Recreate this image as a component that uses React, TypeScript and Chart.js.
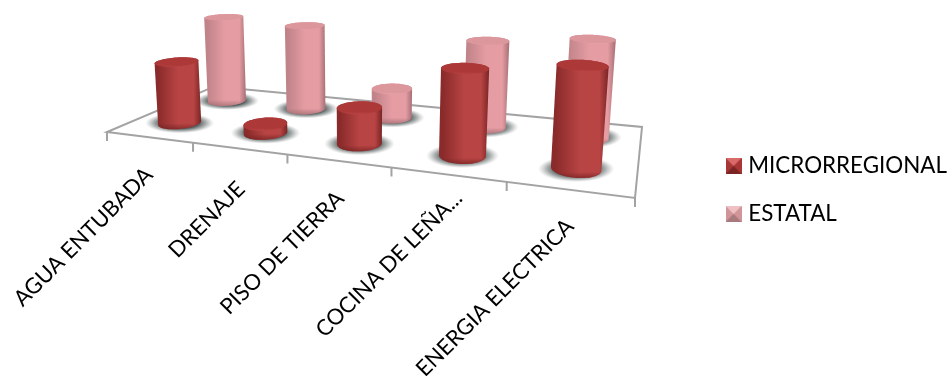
import React, { useEffect, useRef } from "react";
import { Chart, BarController, BarElement, CategoryScale, LinearScale, Legend } from "chart.js";

// Share of dwellings with each service, by region level.
const categories = ["AGUA ENTUBADA", "DRENAJE", "PISO DE TIERRA", "COCINA DE LEÑA...", "ENERGIA ELECTRICA"];
const microrregional = [64, 9, 35, 80, 90];
const estatal = [96, 92, 31, 88, 96];

// Perspective scene: floor corners on screen and the vanishing point of the vertical edges.
const FLOOR = { fl: [107, 132], fr: [635, 198], br: [642, 127], bl: [214.5, 86.4] };
const VANISH = [360, 3600];
const HEIGHT_FACTOR = 0.028;
const DEPTH_RADIUS = 0.115;
const SERIES_DEPTHS = [0.26, 0.73];
const FONT = "Lato, sans-serif";

// Where each rotated axis label ends, relative to its spot on the front edge.
const LABEL_ANCHORS = [[0, 34], [2, 37], [2, 34], [11, 20], [1, 33]];

const PALETTES = [
  { edgeL: "#8a2a2a", mid: "#b84444", edgeR: "#7a2424", top: "#ad3838", rim: "#c44e4e", low: "#6e1f1f" },
  { edgeL: "#c08389", mid: "#e59da3", edgeR: "#a66f75", top: "#dc979d", rim: "#eeb0b5", low: "#9a666b" },
];

function floorMatrix() {
  const [x0, y0] = FLOOR.fl, [x1, y1] = FLOOR.fr, [x2, y2] = FLOOR.br, [x3, y3] = FLOOR.bl;
  const dx1 = x1 - x2, dx2 = x3 - x2, sx = x0 - x1 + x2 - x3;
  const dy1 = y1 - y2, dy2 = y3 - y2, sy = y0 - y1 + y2 - y3;
  const det = dx1 * dy2 - dx2 * dy1;
  const g = (sx * dy2 - dx2 * sy) / det;
  const h = (dx1 * sy - sx * dy1) / det;
  return {
    a: x1 - x0 + g * x1, b: x3 - x0 + h * x3, c: x0,
    d: y1 - y0 + g * y1, e: y3 - y0 + h * y3, f: y0, g, h,
  };
}
const M = floorMatrix();

// u: along the categories, v: along the series, t: fraction of the value axis.
function project(u: number, v: number, t = 0): [number, number] {
  const w = M.g * u + M.h * v + 1;
  const s = -t * HEIGHT_FACTOR;
  const X = M.a * u + M.b * v + M.c + s * VANISH[0];
  const Y = M.d * u + M.e * v + M.f + s * VANISH[1];
  return [X / (w + s), Y / (w + s)];
}

function ring(u: number, v: number, ru: number, rv: number, t: number) {
  const pts: [number, number][] = [];
  for (let i = 0; i < 72; i++) {
    const a = (i / 72) * Math.PI * 2;
    pts.push(project(u + ru * Math.cos(a), v + rv * Math.sin(a), t));
  }
  return pts;
}

function hull(points: [number, number][]) {
  const p = [...points].sort((a, b) => a[0] - b[0] || a[1] - b[1]);
  const cross = (o: number[], a: number[], b: number[]) =>
    (a[0] - o[0]) * (b[1] - o[1]) - (a[1] - o[1]) * (b[0] - o[0]);
  const lo: [number, number][] = [], up: [number, number][] = [];
  for (const q of p) {
    while (lo.length > 1 && cross(lo[lo.length - 2], lo[lo.length - 1], q) <= 0) lo.pop();
    lo.push(q);
  }
  for (const q of [...p].reverse()) {
    while (up.length > 1 && cross(up[up.length - 2], up[up.length - 1], q) <= 0) up.pop();
    up.push(q);
  }
  return lo.slice(0, -1).concat(up.slice(0, -1));
}

function tracePoly(ctx: CanvasRenderingContext2D, pts: [number, number][]) {
  ctx.beginPath();
  pts.forEach((q, i) => (i ? ctx.lineTo(q[0], q[1]) : ctx.moveTo(q[0], q[1])));
  ctx.closePath();
}

function drawShadow(ctx: CanvasRenderingContext2D, base: [number, number][]) {
  const xs = base.map((q) => q[0]), ys = base.map((q) => q[1]);
  const cx = (Math.min(...xs) + Math.max(...xs)) / 2;
  const cy = (Math.min(...ys) + Math.max(...ys)) / 2;
  const rx = (Math.max(...xs) - Math.min(...xs)) / 2 + 13;
  const ry = (Math.max(...ys) - Math.min(...ys)) / 2 + 4;
  ctx.save();
  ctx.translate(cx, cy);
  ctx.scale(1, ry / rx);
  const g = ctx.createRadialGradient(0, 0, rx * 0.55, 0, 0, rx);
  g.addColorStop(0, "rgba(60,72,72,0.9)");
  g.addColorStop(0.5, "rgba(95,105,105,0.5)");
  g.addColorStop(1, "rgba(150,150,150,0)");
  ctx.fillStyle = g;
  ctx.beginPath();
  ctx.arc(0, 0, rx, 0, Math.PI * 2);
  ctx.fill();
  ctx.restore();
}

function drawCylinder(ctx: CanvasRenderingContext2D, u: number, v: number, ru: number, t: number, pal: typeof PALETTES[0]) {
  const base = ring(u, v, ru, DEPTH_RADIUS, 0);
  const top = ring(u, v, ru, DEPTH_RADIUS, t);
  drawShadow(ctx, base);
  const outline = hull(base.concat(top));
  const xs = outline.map((q) => q[0]), ys = outline.map((q) => q[1]);
  const left = Math.min(...xs), right = Math.max(...xs), bottom = Math.max(...ys);
  const topYs = top.map((q) => q[1]);
  const topLow = Math.max(...topYs), topHigh = Math.min(...topYs);

  ctx.save();
  tracePoly(ctx, outline);
  ctx.clip();
  const body = ctx.createLinearGradient(left, 0, right, 0);
  body.addColorStop(0, pal.edgeL);
  body.addColorStop(0.07, pal.edgeL);
  body.addColorStop(0.5, pal.mid);
  body.addColorStop(0.84, pal.mid);
  body.addColorStop(1, pal.edgeR);
  ctx.fillStyle = body;
  ctx.fillRect(left - 1, topHigh - 1, right - left + 2, bottom - topHigh + 2);
  // darker rounding along the foot of the cylinder
  const foot = ctx.createLinearGradient(0, bottom - 6, 0, bottom);
  foot.addColorStop(0, pal.low + "00");
  foot.addColorStop(1, pal.low + "aa");
  ctx.fillStyle = foot;
  ctx.fillRect(left - 1, bottom - 6, right - left + 2, 7);
  ctx.restore();

  // lid with a soft lit bevel on its near edge
  tracePoly(ctx, top);
  const lid = ctx.createLinearGradient(0, topHigh, 0, topLow + 2);
  lid.addColorStop(0, pal.top);
  lid.addColorStop(0.7, pal.top);
  lid.addColorStop(1, pal.rim);
  ctx.fillStyle = lid;
  ctx.fill();
}

// Bars laid out by the stock controller, then painted as cylinders standing on the floor.
class CylinderController extends BarController {
  static id = "cylinder";
  static defaults = BarController.defaults;
  static overrides = BarController.overrides;
  draw() {
    const chart = (this as any).chart;
    const ctx = chart.ctx;
    const meta = (this as any).getMeta();
    const xs = meta.xScale, ys = meta.yScale;
    const v = SERIES_DEPTHS[meta.index];
    meta.data.forEach((bar: any) => {
      const u = (bar.x - xs.left) / xs.width;
      const ru = bar.width / xs.width / 2;
      const t = (bar.base - bar.y) / ys.height;
      drawCylinder(ctx, u, v, ru, t, PALETTES[meta.index]);
    });
  }
}

const floorPlugin = {
  id: "floor",
  beforeDatasetsDraw(chart: any) {
    const { ctx } = chart;
    const xs = chart.scales.x;
    const toU = (px: number) => (px - xs.left) / xs.width;
    ctx.save();
    ctx.strokeStyle = "#a3a3a3";
    ctx.lineWidth = 2;
    ctx.beginPath();
    const corners = [project(0, 0), project(1, 0), project(1, 1), project(0, 1)];
    corners.forEach((q, i) => (i ? ctx.lineTo(q[0], q[1]) : ctx.moveTo(q[0], q[1])));
    ctx.closePath();
    ctx.stroke();
    ctx.beginPath();
    for (let i = 0; i <= categories.length; i++) {
      const q = project(toU(xs.getPixelForValue(i - 0.5)), 0);
      ctx.moveTo(q[0], q[1]);
      ctx.lineTo(q[0], q[1] + 9);
    }
    ctx.stroke();
    ctx.restore();

    // Category labels follow the front edge, rotated as the axis text.
    ctx.save();
    ctx.fillStyle = "#000";
    ctx.font = `22px ${FONT}`;
    ctx.textAlign = "right";
    ctx.textBaseline = "middle";
    xs.getLabels().forEach((label: string, i: number) => {
      const q = project(toU(xs.getPixelForValue(i)), 0);
      ctx.save();
      ctx.translate(q[0] + LABEL_ANCHORS[i][0], q[1] + LABEL_ANCHORS[i][1]);
      ctx.rotate(-Math.PI / 4);
      ctx.fillText(label, 0, 0);
      ctx.restore();
    });
    ctx.restore();
  },
};

function swatch(colors: string[]) {
  const c = document.createElement("canvas");
  c.width = 16;
  c.height = 16;
  const g = c.getContext("2d")!;
  const tri = (pts: number[][], fill: string) => {
    g.fillStyle = fill;
    g.beginPath();
    pts.forEach((p, i) => (i ? g.lineTo(p[0], p[1]) : g.moveTo(p[0], p[1])));
    g.closePath();
    g.fill();
  };
  g.fillStyle = colors[1];
  g.fillRect(0, 0, 16, 16);
  tri([[0, 0], [16, 0], [8, 8]], colors[0]);
  tri([[0, 16], [16, 16], [8, 8]], colors[2]);
  return c;
}

Chart.register(CylinderController, BarElement, CategoryScale, LinearScale, Legend);

export default function App() {
  const ref = useRef<HTMLCanvasElement>(null);
  useEffect(() => {
    const chart = new Chart(ref.current!, {
      type: "cylinder" as any,
      data: {
        labels: categories,
        datasets: [
          { label: "MICRORREGIONAL", data: microrregional, clip: false } as any,
          { label: "ESTATAL", data: estatal, clip: false } as any,
        ],
      },
      plugins: [floorPlugin],
      options: {
        responsive: false,
        animation: false,
        layout: { padding: { top: 4, right: -5 } },
        datasets: { cylinder: { grouped: false, categoryPercentage: 1, barPercentage: 0.42 } } as any,
        scales: {
          x: { type: "category", display: false },
          y: { type: "linear", display: false, min: 0, max: 100 },
        },
        plugins: {
          tooltip: { enabled: false },
          legend: {
            position: "right",
            labels: {
              usePointStyle: true,
              pointStyleWidth: 7,
              padding: 25.6,
              color: "#000",
              font: { family: FONT, size: 22.4 },
              generateLabels: (c: any) =>
                c.data.datasets.map((d: any, i: number) => ({
                  text: d.label,
                  datasetIndex: i,
                  fontColor: "#000",
                  lineWidth: 0,
                  pointStyle: i === 0 ? swatch(["#d96a6a", "#a83636", "#7a2424"]) : swatch(["#efc0c3", "#d09499", "#a87a7e"]),
                })),
            },
          },
        },
      },
    });
    return () => chart.destroy();
  }, []);
  return (
    <div style={{ position: "fixed", left: 0, top: 0, width: 952, height: 376, background: "#fff" }}>
      <canvas ref={ref} width={952} height={376} style={{ display: "block" }} />
    </div>
  );
}
